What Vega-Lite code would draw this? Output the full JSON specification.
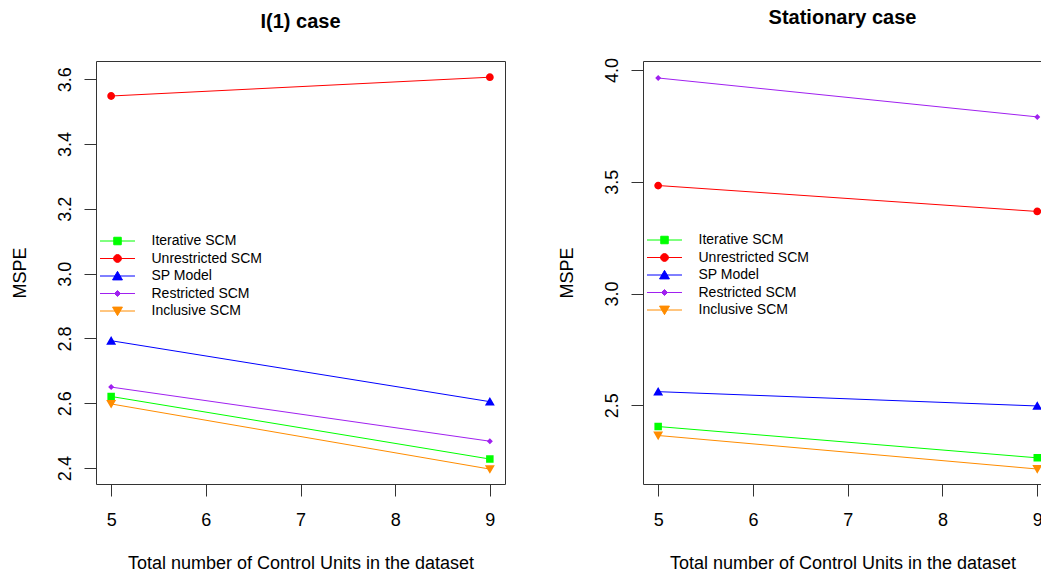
{
  "$schema": "https://vega.github.io/schema/vega-lite/v6.json",
  "background": "white",
  "padding": {"left": 10, "top": 7, "right": 0, "bottom": 0},
  "data": {
    "values": [
      {"panel": "I(1) case", "series": "Iterative SCM", "n": 5, "mspe": 2.621},
      {"panel": "I(1) case", "series": "Iterative SCM", "n": 9, "mspe": 2.428},
      {"panel": "I(1) case", "series": "Unrestricted SCM", "n": 5, "mspe": 3.548},
      {"panel": "I(1) case", "series": "Unrestricted SCM", "n": 9, "mspe": 3.606},
      {"panel": "I(1) case", "series": "SP Model", "n": 5, "mspe": 2.793},
      {"panel": "I(1) case", "series": "SP Model", "n": 9, "mspe": 2.605},
      {"panel": "I(1) case", "series": "Restricted SCM", "n": 5, "mspe": 2.65},
      {"panel": "I(1) case", "series": "Restricted SCM", "n": 9, "mspe": 2.483},
      {"panel": "I(1) case", "series": "Inclusive SCM", "n": 5, "mspe": 2.598},
      {"panel": "I(1) case", "series": "Inclusive SCM", "n": 9, "mspe": 2.397},
      {"panel": "Stationary case", "series": "Iterative SCM", "n": 5, "mspe": 2.405},
      {"panel": "Stationary case", "series": "Iterative SCM", "n": 9, "mspe": 2.265},
      {"panel": "Stationary case", "series": "Unrestricted SCM", "n": 5, "mspe": 3.483},
      {"panel": "Stationary case", "series": "Unrestricted SCM", "n": 9, "mspe": 3.367},
      {"panel": "Stationary case", "series": "SP Model", "n": 5, "mspe": 2.561},
      {"panel": "Stationary case", "series": "SP Model", "n": 9, "mspe": 2.497},
      {"panel": "Stationary case", "series": "Restricted SCM", "n": 5, "mspe": 3.964},
      {"panel": "Stationary case", "series": "Restricted SCM", "n": 9, "mspe": 3.79},
      {"panel": "Stationary case", "series": "Inclusive SCM", "n": 5, "mspe": 2.365},
      {"panel": "Stationary case", "series": "Inclusive SCM", "n": 9, "mspe": 2.215}
    ]
  },
  "spacing": 51,
  "resolve": {
    "scale": {"stroke": "independent", "fill": "independent", "shape": "independent"},
    "legend": {"stroke": "independent", "fill": "independent", "shape": "independent"}
  },
  "hconcat": [
    {
      "width": 409,
      "height": 423,
      "title": {"text": "I(1) case"},
      "transform": [{"filter": "datum.panel === 'I(1) case'"}],
      "encoding": {
        "x": {"field": "n", "type": "quantitative", "scale": {"domain": [4.84, 9.16], "nice": false, "zero": false}, "axis": {"values": [5, 6, 7, 8, 9], "format": "d", "title": "Total number of Control Units in the dataset"}},
        "y": {"field": "mspe", "type": "quantitative", "scale": {"domain": [2.351, 3.656], "nice": false, "zero": false}, "axis": {"values": [2.4, 2.6, 2.8, 3.0, 3.2, 3.4, 3.6], "format": ".1f", "title": "MSPE"}}
      },
      "layer": [
        {
          "mark": {"type": "line", "strokeWidth": 1},
          "encoding": {
            "stroke": {"field": "series", "type": "nominal", "scale": {"domain": ["Iterative SCM", "Unrestricted SCM", "SP Model", "Restricted SCM", "Inclusive SCM"], "range": ["#00FF00", "#FF0000", "#0000FF", "#A020F0", "#FF8C00"]},
              "legend": {"title": null, "orient": "none", "legendX": 14.5, "legendY": 173, "padding": 0, "offset": 0, "labelFont": "Liberation Sans", "labelFontSize": 14, "labelColor": "black", "labelOffset": 27, "rowPadding": 3.5, "symbolSize": 36, "symbolStrokeWidth": 1, "symbolOpacity": 1}
            }
          }
        },
        {
          "mark": {"type": "point", "filled": true, "opacity": 1, "size": 36, "clip": true},
          "encoding": {
            "fill": {"field": "series", "type": "nominal", "scale": {"domain": ["Iterative SCM", "Unrestricted SCM", "SP Model", "Restricted SCM", "Inclusive SCM"], "range": ["#00FF00", "#FF0000", "#0000FF", "#A020F0", "#FF8C00"]},
              "legend": {"title": null, "orient": "none", "legendX": 14.5, "legendY": 173, "padding": 0, "offset": 0, "labelFont": "Liberation Sans", "labelFontSize": 14, "labelColor": "black", "labelOffset": 27, "rowPadding": 3.5, "symbolSize": 36, "symbolStrokeWidth": 1, "symbolOpacity": 1}
            },
            "shape": {"field": "series", "type": "nominal",
              "scale": {"domain": ["Iterative SCM", "Unrestricted SCM", "SP Model", "Restricted SCM", "Inclusive SCM"], "range": ["M-5.83,0H5.83M-1.25,-1.25H1.25V1.25H-1.25Z", "M-5.83,0H5.83M1.3,0A1.3,1.3,0,1,1,-1.3,0A1.3,1.3,0,1,1,1.3,0Z", "M-5.83,0H5.83M0,-1.55L1.65,1.3L-1.65,1.3Z", "M-5.83,0H5.83M-1,0L0,-1L1,0L0,1Z", "M-5.83,0H5.83M0,1.55L1.65,-1.3L-1.65,-1.3Z"]},
              "legend": {"title": null, "orient": "none", "legendX": 14.5, "legendY": 173, "padding": 0, "offset": 0, "labelFont": "Liberation Sans", "labelFontSize": 14, "labelColor": "black", "labelOffset": 27, "rowPadding": 3.5, "symbolSize": 36, "symbolStrokeWidth": 1, "symbolOpacity": 1}
            }
          }
        }
      ]
    },
    {
      "width": 399,
      "height": 423,
      "title": {"text": "Stationary case"},
      "transform": [{"filter": "datum.panel === 'Stationary case'"}],
      "encoding": {
        "x": {"field": "n", "type": "quantitative", "scale": {"domain": [4.84, 9.05], "nice": false, "zero": false}, "axis": {"values": [5, 6, 7, 8, 9], "format": "d", "title": "Total number of Control Units in the dataset"}},
        "y": {"field": "mspe", "type": "quantitative", "scale": {"domain": [2.148, 4.04], "nice": false, "zero": false}, "axis": {"values": [2.5, 3.0, 3.5, 4.0], "format": ".1f", "title": "MSPE"}}
      },
      "layer": [
        {
          "mark": {"type": "line", "strokeWidth": 1},
          "encoding": {
            "stroke": {"field": "series", "type": "nominal", "scale": {"domain": ["Iterative SCM", "Unrestricted SCM", "SP Model", "Restricted SCM", "Inclusive SCM"], "range": ["#00FF00", "#FF0000", "#0000FF", "#A020F0", "#FF8C00"]},
              "legend": {"title": null, "orient": "none", "legendX": 14.5, "legendY": 172, "padding": 0, "offset": 0, "labelFont": "Liberation Sans", "labelFontSize": 14, "labelColor": "black", "labelOffset": 27, "rowPadding": 3.5, "symbolSize": 36, "symbolStrokeWidth": 1, "symbolOpacity": 1}
            }
          }
        },
        {
          "mark": {"type": "point", "filled": true, "opacity": 1, "size": 36, "clip": true},
          "encoding": {
            "fill": {"field": "series", "type": "nominal", "scale": {"domain": ["Iterative SCM", "Unrestricted SCM", "SP Model", "Restricted SCM", "Inclusive SCM"], "range": ["#00FF00", "#FF0000", "#0000FF", "#A020F0", "#FF8C00"]},
              "legend": {"title": null, "orient": "none", "legendX": 14.5, "legendY": 172, "padding": 0, "offset": 0, "labelFont": "Liberation Sans", "labelFontSize": 14, "labelColor": "black", "labelOffset": 27, "rowPadding": 3.5, "symbolSize": 36, "symbolStrokeWidth": 1, "symbolOpacity": 1}
            },
            "shape": {"field": "series", "type": "nominal",
              "scale": {"domain": ["Iterative SCM", "Unrestricted SCM", "SP Model", "Restricted SCM", "Inclusive SCM"], "range": ["M-5.83,0H5.83M-1.25,-1.25H1.25V1.25H-1.25Z", "M-5.83,0H5.83M1.3,0A1.3,1.3,0,1,1,-1.3,0A1.3,1.3,0,1,1,1.3,0Z", "M-5.83,0H5.83M0,-1.55L1.65,1.3L-1.65,1.3Z", "M-5.83,0H5.83M-1,0L0,-1L1,0L0,1Z", "M-5.83,0H5.83M0,1.55L1.65,-1.3L-1.65,-1.3Z"]},
              "legend": {"title": null, "orient": "none", "legendX": 14.5, "legendY": 172, "padding": 0, "offset": 0, "labelFont": "Liberation Sans", "labelFontSize": 14, "labelColor": "black", "labelOffset": 27, "rowPadding": 3.5, "symbolSize": 36, "symbolStrokeWidth": 1, "symbolOpacity": 1}
            }
          }
        }
      ]
    }
  ],
  "config": {
    "font": "Liberation Sans",
    "view": {"stroke": "#333333", "strokeWidth": 1},
    "title": {"font": "Liberation Sans", "fontSize": 20, "fontWeight": "bold", "color": "black", "anchor": "middle", "offset": 29, "baseline": "alphabetic"},
    "axis": {
      "domain": false, "grid": false,
      "ticks": true, "tickSize": 12, "tickColor": "#333333", "tickWidth": 1,
      "labelFont": "Liberation Sans", "labelFontSize": 18, "labelColor": "black",
      "titleFont": "Liberation Sans", "titleFontSize": 18, "titleFontWeight": "normal", "titleColor": "black"
    },
    "axisX": {"labelPadding": 15, "titlePadding": 25},
    "axisY": {"labelAngle": 270, "labelAlign": "center", "labelBaseline": "bottom", "labelPadding": 10, "titlePadding": 27}
  }
}
